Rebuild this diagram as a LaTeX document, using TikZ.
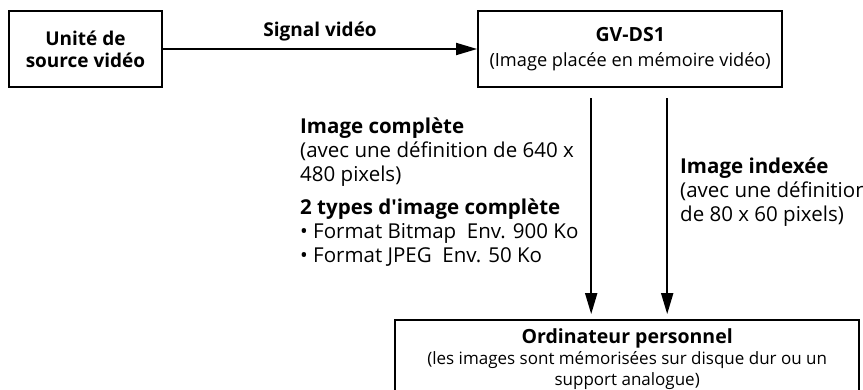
\documentclass[tikz,border=0pt]{standalone}
\usepackage{fontspec}
\setmainfont{Open Sans}
\usetikzlibrary{positioning}
\usetikzlibrary{arrows.meta}
\tikzset{squarednode/.style={rectangle, draw=black, line width=2.2pt, minimum height=76pt, align=center, inner sep=0pt}}
\tikzset{flow/.style={-{Triangle[length=21pt,width=12pt]}, line width=1.8pt}}
\tikzset{note/.style={anchor=north west, align=left, inner sep=0pt, font=\fontsize{20.5}{24}\selectfont}}
\newcommand{\boxtitle}[1]{{\fontsize{19.5}{22}\selectfont\bfseries #1}}

\begin{document}
\begin{tikzpicture}[x=1pt, y=1pt]
    \useasboundingbox (0,0) rectangle (863,-390);

    \node[squarednode, minimum width=153pt, font=\fontsize{19}{22}\selectfont\bfseries]    (source)    at (85.5,-49)                   {Unité de\\source vidéo};
    \node[squarednode, minimum width=304pt, font=\fontsize{18.2}{25}\selectfont]    (gvds)      [right=314pt of source]         {\boxtitle{GV-DS1}\\(Image placée en mémoire vidéo)};
    \node[squarednode, minimum width=464pt, minimum height=78pt, font=\fontsize{17}{21}\selectfont]    (computer)  [below=231pt of gvds, xshift=-3pt]  {\boxtitle{Ordinateur personnel}\\(les images sont mémorisées sur disque dur ou un\\support analogue)};

    \draw[flow] (source.east) -- node[above=4pt, font=\fontsize{19}{22}\selectfont\bfseries] {Signal vidéo} (gvds.west);

    \coordinate (full)  at ([xshift=-39pt, yshift=-10pt]gvds.south);
    \coordinate (index) at ([xshift=37pt, yshift=-10pt]gvds.south);
    \draw[flow, shorten >=5pt] (full) -- (full |- computer.north);
    \draw[flow, shorten >=5pt] (index) -- (index |- computer.north);

    \node[note]    (fulltext)   at (300,-118)                                       {\textbf{Image complète}\\(avec une définition de 640 x\\480 pixels)};
    \node[note]    (types)      [below=12pt of fulltext.south west, anchor=north west]  {\textbf{2 types d\textquotesingle image complète}\\• Format Bitmap\ \ Env. 900 Ko\\• Format JPEG\ \ Env. 50 Ko};
    \node[note]    (indextext)  at (680,-158)                                       {\textbf{Image indexée}\\(avec une définition\\de 80 x 60 pixels)};
\end{tikzpicture}
\end{document}
